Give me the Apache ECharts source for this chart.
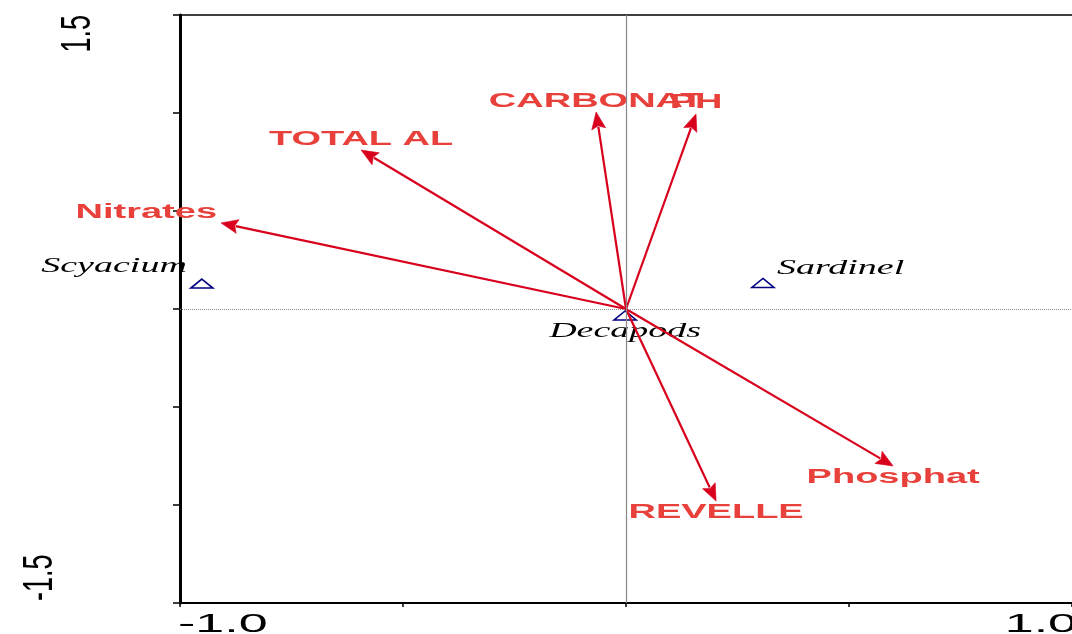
<!DOCTYPE html>
<html>
<head>
<meta charset="utf-8">
<script src="https://cdn.jsdelivr.net/npm/echarts@6/dist/echarts.min.js"></script>
<style>
  html, body { margin: 0; padding: 0; background: #ffffff; }
  #chart { width: 1072px; height: 634px; }
</style>
</head>
<body>
<div id="chart"></div>
<script>
// Environmental variables: biplot arrows drawn from the origin
const envNames = ['CARBONAT', 'PH', 'TOTAL AL', 'Nitrates', 'Phosphat', 'REVELLE'];
const envX = [-0.067, 0.157, -0.594, -0.908, 0.599, 0.202];
const envY = [1.005, 0.995, 0.811, 0.439, -0.801, -0.980];

// Species scores
const speciesNames = ['Scyacium', 'Sardinel', 'Decapods'];
const speciesX = [-0.951, 0.307, -0.002];
const speciesY = [0.130, 0.133, -0.033];

// Axis end labels
const xTickValues = [-1.0, 1.0];
const xTickLabels = ['-1.0', '1.0'];
const yTickValues = [-1.5, 1.5];
const yTickLabels = ['-1.5', '1.5'];

const ARROW_COLOR = '#d8001c';
const LABEL_COLOR = '#e8403b';
const SPECIES_COLOR = '#000080';
const WIDE = 1.9; // horizontally widened lettering

// Where each label sits relative to its mark
function envLabelPlace(name, tip, up) {
  if (name === 'Nitrates') return { x: tip[0] - 4, y: tip[1] - 10, align: 'right' };
  return { x: tip[0], y: up ? tip[1] - 11 : tip[1] + 11, align: 'center' };
}
const speciesLabelPlace = {
  Scyacium: { dx: -15, dy: -17, align: 'right' },
  Sardinel: { dx: 14, dy: -14, align: 'left' },
  Decapods: { dx: 0, dy: 16, align: 'center' }
};

const chart = echarts.init(document.getElementById('chart'), null, { renderer: 'canvas' });

const option = {
  animation: false,
  backgroundColor: '#ffffff',
  grid: { left: 180, right: 0, top: 15, bottom: 31, containLabel: false },
  xAxis: [
    {
      type: 'value', min: -1, max: 1, interval: 0.5, position: 'bottom',
      axisLine: { show: true, onZero: false, lineStyle: { color: '#000', width: 2 } },
      axisTick: { show: true, length: 4, lineStyle: { color: '#000', width: 1.5 } },
      axisLabel: { show: false },
      splitLine: { show: false }
    },
    {
      type: 'value', min: -1, max: 1, interval: 0.5, position: 'top',
      axisLine: { show: true, onZero: false, lineStyle: { color: '#000', width: 1.5 } },
      axisTick: { show: false },
      axisLabel: { show: false },
      splitLine: { show: false }
    }
  ],
  yAxis: {
    type: 'value', min: -1.5, max: 1.5, interval: 0.5,
    axisLine: { show: true, onZero: false, lineStyle: { color: '#000', width: 3 } },
    axisTick: { show: true, length: 7, lineStyle: { color: '#000', width: 1.5 } },
    axisLabel: { show: false },
    splitLine: { show: false }
  },
  series: [
    // centre cross lines
    {
      type: 'scatter',
      data: [],
      silent: true,
      z: 1,
      markLine: {
        silent: true,
        symbol: ['none', 'none'],
        label: { show: false },
        animation: false,
        data: [
          { xAxis: 0, lineStyle: { color: '#888888', width: 1.2, type: 'solid' } },
          { yAxis: 0, lineStyle: { color: '#8a8a8a', width: 1, type: [1, 1] } }
        ]
      }
    },
    // species triangles and names
    {
      type: 'custom',
      coordinateSystem: 'cartesian2d',
      encode: { x: 0, y: 1 },
      z: 3,
      data: speciesNames.map((n, i) => [speciesX[i], speciesY[i]]),
      renderItem(params, api) {
        const p = api.coord([api.value(0), api.value(1)]);
        const name = speciesNames[params.dataIndex];
        const pl = speciesLabelPlace[name];
        const w = 11, h = 4.5;
        return {
          type: 'group',
          children: [
            {
              type: 'polygon',
              shape: { points: [[p[0], p[1] - h], [p[0] + w, p[1] + h], [p[0] - w, p[1] + h]] },
              style: { fill: 'none', stroke: SPECIES_COLOR, lineWidth: 1.6 }
            },
            {
              type: 'text',
              x: p[0] + pl.dx, y: p[1] + pl.dy,
              scaleX: WIDE,
              style: {
                text: name, align: pl.align, verticalAlign: 'middle',
                fill: '#000',
                font: 'italic 20px "Liberation Serif", "Times New Roman", serif'
              }
            }
          ]
        };
      }
    },
    // environmental arrows
    {
      type: 'custom',
      coordinateSystem: 'cartesian2d',
      encode: { x: 0, y: 1 },
      z: 4,
      data: envNames.map((n, i) => [envX[i], envY[i]]),
      renderItem(params, api) {
        const name = envNames[params.dataIndex];
        const vy = api.value(1);
        const o = api.coord([0, 0]);
        const t = api.coord([api.value(0), vy]);
        const dx = t[0] - o[0], dy = t[1] - o[1];
        const len = Math.hypot(dx, dy);
        const ux = dx / len, uy = dy / len;
        const headLen = 17, headHalf = 7;
        const b = [t[0] - ux * headLen, t[1] - uy * headLen];
        const l = [b[0] - uy * headHalf, b[1] + ux * headHalf];
        const r = [b[0] + uy * headHalf, b[1] - ux * headHalf];
        const lab = envLabelPlace(name, t, vy > 0);
        return {
          type: 'group',
          children: [
            {
              type: 'line',
              shape: { x1: o[0], y1: o[1], x2: b[0] + ux * 2, y2: b[1] + uy * 2 },
              style: { stroke: ARROW_COLOR, lineWidth: 2.2 }
            },
            {
              type: 'polygon',
              shape: { points: [t, l, [b[0] + ux * 3, b[1] + uy * 3], r] },
              style: { fill: ARROW_COLOR, stroke: ARROW_COLOR, lineWidth: 0.6 }
            },
            {
              type: 'text',
              x: lab.x, y: lab.y,
              scaleX: WIDE,
              style: {
                text: name, align: lab.align, verticalAlign: 'middle',
                fill: LABEL_COLOR,
                font: 'bold 20px "Liberation Sans", Arial, sans-serif'
              }
            }
          ]
        };
      }
    },
    // x axis end labels
    {
      type: 'custom',
      coordinateSystem: 'cartesian2d',
      encode: { x: 0, y: 1 },
      z: 5,
      data: xTickValues.map(v => [v, -1.5]),
      renderItem(params, api) {
        const p = api.coord([api.value(0), api.value(1)]);
        const first = params.dataIndex === 0;
        return {
          type: 'text',
          x: first ? p[0] - 2 : p[0] + 5,
          y: p[1] + 22,
          scaleX: 2,
          style: {
            text: xTickLabels[params.dataIndex],
            align: first ? 'left' : 'right',
            verticalAlign: 'middle',
            fill: '#000',
            font: '26px "Liberation Sans", Arial, sans-serif'
          }
        };
      }
    },
    // y axis end labels, written upward
    {
      type: 'custom',
      coordinateSystem: 'cartesian2d',
      encode: { x: 0, y: 1 },
      z: 5,
      data: yTickValues.map(v => [-1, v]),
      renderItem(params, api) {
        const p = api.coord([api.value(0), api.value(1)]);
        const first = params.dataIndex === 0;
        return {
          type: 'text',
          x: first ? 40 : 78,
          y: first ? p[1] - 2 : p[1],
          rotation: Math.PI / 2,
          scaleY: 1.6,
          style: {
            text: yTickLabels[params.dataIndex],
            align: first ? 'left' : 'right',
            verticalAlign: 'middle',
            fill: '#000',
            font: '27px "Liberation Sans", Arial, sans-serif'
          }
        };
      }
    }
  ]
};

chart.setOption(option);
</script>
</body>
</html>
